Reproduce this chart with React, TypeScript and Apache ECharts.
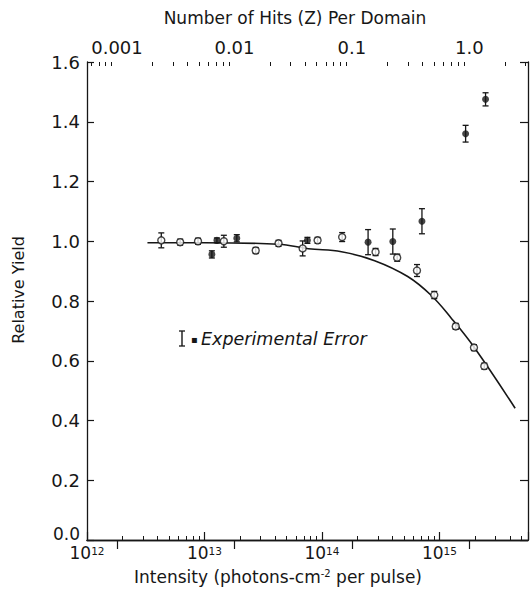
import React, { useEffect, useRef } from "react";
import * as echarts from "echarts";

// ---- data (intensity in photons/cm^2 per pulse, relative yield) ----
const openIntensity = [4.29e12, 6.21e12, 8.81e12, 1.462e13, 2.73e13, 4.27e13, 6.85e13, 9.18e13, 1.486e14, 2.86e14, 4.37e14, 6.44e14, 9.04e14, 1.377e15, 1.968e15, 2.41e15];
const openYield = [1.003, 0.997, 1.0, 1.0, 0.969, 0.993, 0.976, 1.003, 1.014, 0.964, 0.945, 0.902, 0.82, 0.715, 0.644, 0.582];
const openError = [0.025, 0.01, 0.01, 0.02, 0.01, 0.01, 0.025, 0.01, 0.015, 0.012, 0.012, 0.02, 0.012, 0.01, 0.01, 0.01];

const filledIntensity = [1.156e13, 1.276e13, 1.884e13, 7.52e13, 2.47e14, 4.01e14, 7.1e14, 1.671e15, 2.47e15];
const filledYield = [0.956, 1.003, 1.01, 1.003, 0.997, 0.999, 1.067, 1.36, 1.475];
const filledError = [0.012, 0.008, 0.012, 0.01, 0.042, 0.042, 0.042, 0.028, 0.022];

const curveIntensity = [3.27e12, 1e13, 4.27e13, 7.66e13, 1.466e14, 2.81e14, 5.37e14, 8.45e14, 1.247e15, 1.968e15, 4.41e15];
const curveYield = [0.995, 0.995, 0.99, 0.975, 0.965, 0.935, 0.882, 0.82, 0.745, 0.646, 0.441];

// ---- axes ----
const xMinExp = 12;
const xMaxExp = 15.754;
const hitsPerIntensity = 1 / 1.8e15; // Z = intensity * this
const hitsTicks = [0.001, 0.01, 0.1, 1.0];
const hitsTickLabels = ["0.001", "0.01", "0.1", "1.0"];
const minorMultiples = [2, 3, 4, 5, 6, 7, 8, 9];
const intensityDecades = [1e12, 1e13, 1e14, 1e15];
const hitsDecades = [0.0001, 0.001, 0.01, 0.1, 1];

const FONT = "DejaVu Sans";
const INK = "#161616";

const lg = (v: number) => Math.log10(v);

export default function App() {
  const ref = useRef<HTMLDivElement>(null);
  useEffect(() => {
    if (!ref.current) return;
    const chart = echarts.init(ref.current, undefined, { renderer: "svg" });

    const inRange = (e: number) => e >= xMinExp && e <= xMaxExp;
    const bottomMinor: number[] = [];
    intensityDecades.forEach((d) => minorMultiples.forEach((m) => { const e = lg(d * m); if (inRange(e)) bottomMinor.push(e); }));
    const topMinor: number[] = [];
    hitsDecades.forEach((d) => minorMultiples.forEach((m) => { const e = lg((d * m) / hitsPerIntensity); if (inRange(e)) topMinor.push(e); }));
    const topMajor = hitsTicks.map((z) => lg(z / hitsPerIntensity));

    const errData = (xs: number[], ys: number[], es: number[]) => xs.map((x, i) => [lg(x), ys[i] - es[i], ys[i] + es[i]]);
    const errRender = (params: any, api: any) => {
      const x = api.value(0);
      const lo = api.coord([x, api.value(1)]);
      const hi = api.coord([x, api.value(2)]);
      const w = 3;
      const style = { stroke: INK, lineWidth: 1.3 };
      return {
        type: "group",
        children: [
          { type: "line", shape: { x1: lo[0], y1: lo[1], x2: hi[0], y2: hi[1] }, style },
          { type: "line", shape: { x1: lo[0] - w, y1: lo[1], x2: lo[0] + w, y2: lo[1] }, style },
          { type: "line", shape: { x1: hi[0] - w, y1: hi[1], x2: hi[0] + w, y2: hi[1] }, style },
        ],
      };
    };

    const baseX = {
      type: "value",
      min: xMinExp,
      max: xMaxExp,
      splitLine: { show: false },
    };

    const option: any = {
      animation: false,
      backgroundColor: "#ffffff",
      grid: { left: 87, right: 0, top: 62, bottom: 51 },
      xAxis: [
        {
          ...baseX,
          position: "bottom",
          interval: 1,
          axisLine: { show: true, lineStyle: { color: INK, width: 1.3 } },
          axisTick: { show: true, inside: true, length: 8, lineStyle: { color: INK, width: 1.2 } },
          axisLabel: {
            margin: 5,
            formatter: (v: number) => (Math.abs(v - Math.round(v)) > 1e-6 ? "" : `{b|10}{s|${Math.round(v)}}`),
            rich: {
              b: { fontFamily: FONT, fontSize: 17, color: INK, verticalAlign: "bottom", lineHeight: 16 },
              s: { fontFamily: FONT, fontSize: 10.5, color: INK, verticalAlign: "top", lineHeight: 16 },
            },
          },
        },
        {
          ...baseX,
          position: "top",
          axisLine: { show: true, lineStyle: { color: INK, width: 1.3 } },
          axisTick: { show: true, inside: true, length: 9, customValues: topMajor, lineStyle: { color: INK, width: 1.2 } },
          axisLabel: {
            margin: 6,
            customValues: topMajor,
            fontFamily: FONT,
            fontSize: 18,
            color: INK,
            formatter: (v: number) => {
              const i = topMajor.findIndex((t) => Math.abs(t - v) < 1e-6);
              return i >= 0 ? hitsTickLabels[i] : "";
            },
          },
        },
        {
          ...baseX,
          position: "bottom",
          axisLine: { show: false },
          axisTick: { show: true, inside: true, length: 4, customValues: bottomMinor, lineStyle: { color: INK, width: 1 } },
          axisLabel: { show: false },
        },
        {
          ...baseX,
          position: "top",
          axisLine: { show: false },
          axisTick: { show: true, inside: true, length: 4, customValues: topMinor, lineStyle: { color: INK, width: 1 } },
          axisLabel: { show: false },
        },
      ],
      yAxis: [
        {
          type: "value",
          position: "left",
          min: 0,
          max: 1.6,
          interval: 0.2,
          splitLine: { show: false },
          axisLine: { show: true, lineStyle: { color: INK, width: 1.3 } },
          axisTick: { show: true, inside: true, length: 7, lineStyle: { color: INK, width: 1.2 } },
          axisLabel: {
            margin: 7,
            fontFamily: FONT,
            fontSize: 18,
            color: INK,
            lineHeight: 14,
            formatter: (v: number) => (v === 0 ? "{z|0.0}" : v.toFixed(1)),
            rich: {
              z: { fontFamily: FONT, fontSize: 17, color: INK, lineHeight: 12, padding: [0, 0, 12, 0] },
            },
          },
        },
        {
          type: "value",
          position: "right",
          min: 0,
          max: 1.6,
          interval: 0.2,
          splitLine: { show: false },
          axisLine: { show: true, lineStyle: { color: INK, width: 1.3 } },
          axisTick: { show: true, inside: true, length: 8, lineStyle: { color: INK, width: 1.2 } },
          axisLabel: { show: false },
        },
      ],
      series: [
        {
          type: "line",
          data: curveIntensity.map((x, i) => [lg(x), curveYield[i]]),
          showSymbol: false,
          smooth: 0.4,
          lineStyle: { color: INK, width: 1.6 },
          z: 2,
        },
        {
          type: "custom",
          data: errData(openIntensity, openYield, openError),
          encode: { x: 0, y: [1, 2] },
          renderItem: errRender,
          z: 3,
        },
        {
          type: "custom",
          data: errData(filledIntensity, filledYield, filledError),
          encode: { x: 0, y: [1, 2] },
          renderItem: errRender,
          z: 3,
        },
        {
          type: "scatter",
          data: openIntensity.map((x, i) => [lg(x), openYield[i]]),
          symbol: "circle",
          symbolSize: 7,
          itemStyle: { color: "#ffffff", borderColor: INK, borderWidth: 1.4 },
          z: 4,
        },
        {
          type: "scatter",
          data: filledIntensity.map((x, i) => [lg(x), filledYield[i]]),
          symbol: "circle",
          symbolSize: 7,
          itemStyle: { color: INK, borderColor: INK, borderWidth: 0 },
          z: 4,
        },
      ],
      graphic: [
        {
          type: "text",
          x: 295,
          y: 18,
          style: { text: "Number of Hits (Z) Per Domain", fontFamily: FONT, fontSize: 17, fill: INK, align: "center", verticalAlign: "middle" },
        },
        {
          type: "text",
          x: 18,
          y: 290,
          rotation: Math.PI / 2,
          style: { text: "Relative Yield", fontFamily: FONT, fontSize: 16, fill: INK, align: "center", verticalAlign: "middle" },
        },
        {
          type: "text",
          x: 278,
          y: 577,
          style: {
            text: "Intensity (photons-cm{s|-2} per pulse)",
            fontFamily: FONT,
            fontSize: 17,
            fill: INK,
            align: "center",
            verticalAlign: "middle",
            rich: {
              s: { fontFamily: FONT, fontSize: 10, fill: INK, verticalAlign: "top", lineHeight: 18 },
            },
          },
        },
        {
          type: "group",
          x: 179,
          y: 331,
          children: [
            { type: "line", shape: { x1: 3, y1: 0, x2: 3, y2: 15 }, style: { stroke: INK, lineWidth: 1.4 } },
            { type: "line", shape: { x1: 0, y1: 0, x2: 6, y2: 0 }, style: { stroke: INK, lineWidth: 1.3 } },
            { type: "line", shape: { x1: 0, y1: 15, x2: 6, y2: 15 }, style: { stroke: INK, lineWidth: 1.3 } },
          ],
        },
        {
          type: "text",
          x: 191,
          y: 339,
          style: { text: "▪", fontFamily: FONT, fontSize: 10, fill: INK, verticalAlign: "middle" },
        },
        {
          type: "text",
          x: 201,
          y: 339,
          style: { text: "Experimental Error", fontFamily: FONT, fontSize: 17.5, fontStyle: "italic", fill: INK, verticalAlign: "middle" },
        },
      ],
    };

    chart.setOption(option);
    return () => chart.dispose();
  }, []);

  return <div ref={ref} style={{ position: "fixed", left: 0, top: 0, width: 531, height: 591, background: "#fff" }} />;
}
